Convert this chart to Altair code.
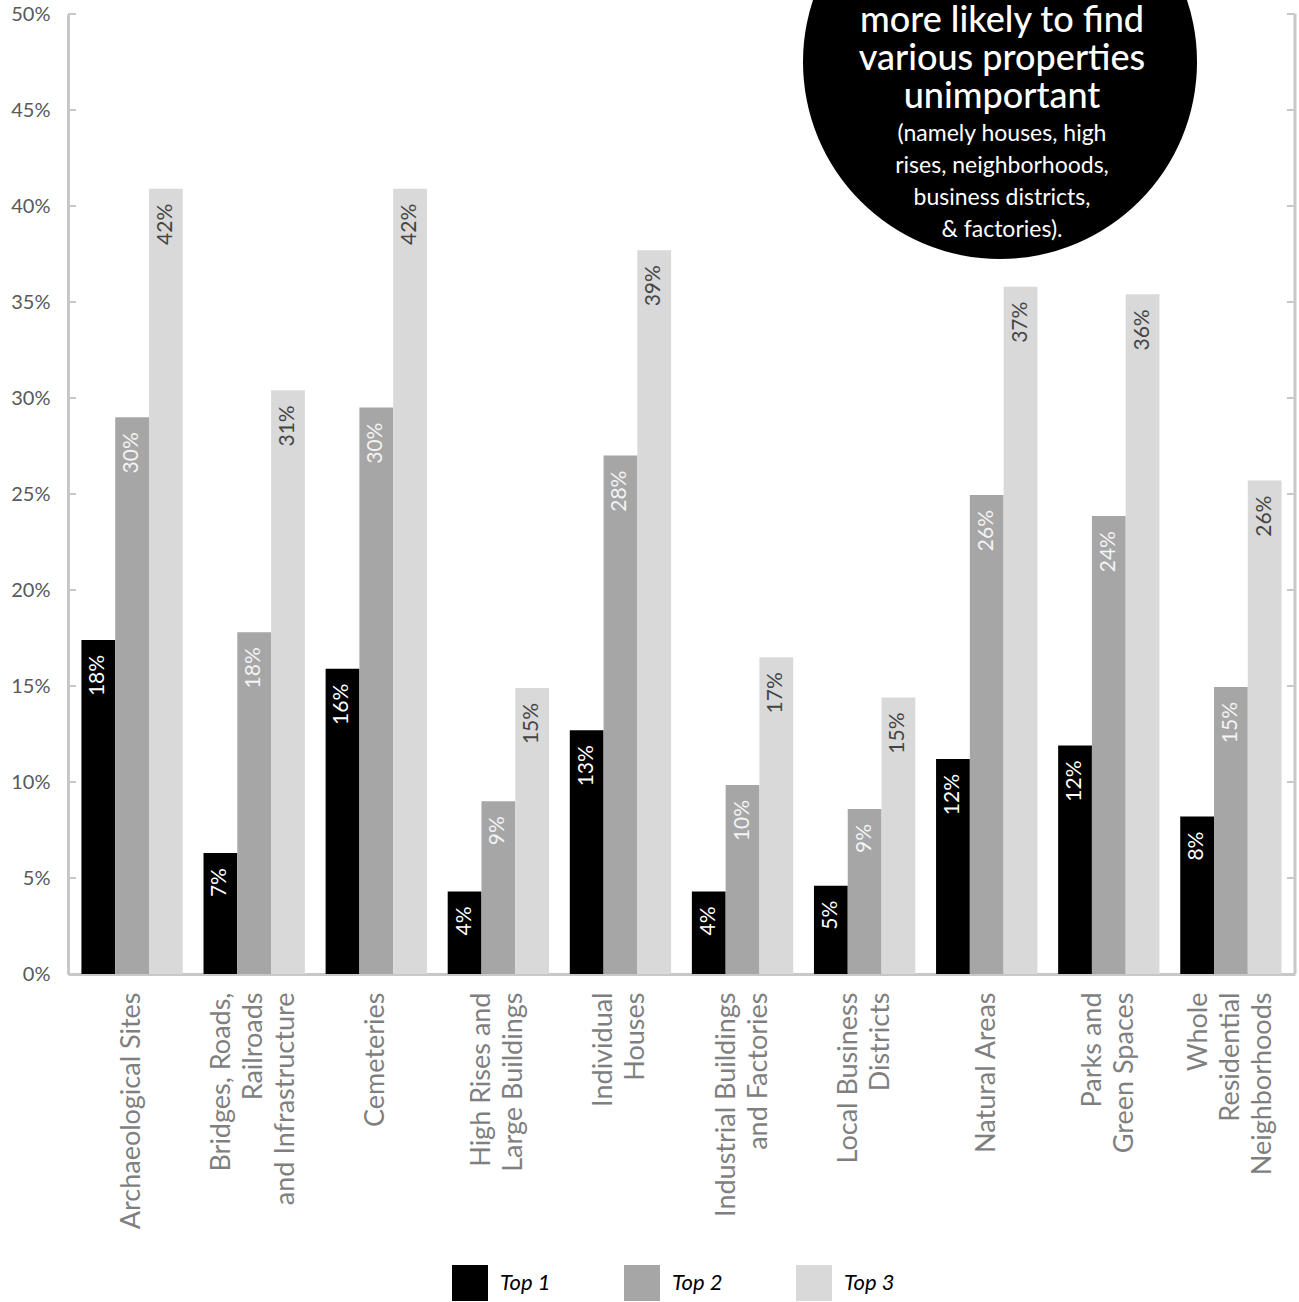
import altair as alt
import pandas as pd

# ---------------- data ----------------
categories = [
    "Archaeological Sites",
    "Bridges, Roads,|Railroads|and Infrastructure",
    "Cemeteries",
    "High Rises and|Large Buildings",
    "Individual|Houses",
    "Industrial Buildings|and Factories",
    "Local Business|Districts",
    "Natural Areas",
    "Parks and|Green Spaces",
    "Whole|Residential|Neighborhoods",
]
series = ["Top 1", "Top 2", "Top 3"]

top1 = [17.4, 6.3, 15.9, 4.3, 12.7, 4.3, 4.6, 11.2, 11.9, 8.2]
top2 = [29.0, 17.8, 29.5, 9.0, 27.0, 9.85, 8.6, 24.95, 23.85, 14.95]
top3 = [40.9, 30.4, 40.9, 14.9, 37.7, 16.5, 14.4, 35.8, 35.4, 25.7]

labels1 = ["18%", "7%", "16%", "4%", "13%", "4%", "5%", "12%", "12%", "8%"]
labels2 = ["30%", "18%", "30%", "9%", "28%", "10%", "9%", "26%", "24%", "15%"]
labels3 = ["42%", "31%", "42%", "15%", "39%", "17%", "15%", "37%", "36%", "26%"]

y_ticks = [0, 5, 10, 15, 20, 25, 30, 35, 40, 45, 50]

bar_colors = ["#000000", "#a6a6a6", "#d9d9d9"]
label_colors = ["#ffffff", "#f4f4f4", "#444444"]

note_big = ["more likely to find", "various properties", "unimportant"]
note_small = ["(namely houses, high", "rises, neighborhoods,", "business districts,", "& factories)."]

# ---------------- table ----------------
rows = []
for s, vals, labs, lc in zip(series, [top1, top2, top3], [labels1, labels2, labels3], label_colors):
    for c, v, l in zip(categories, vals, labs):
        rows.append({"category": c, "series": s, "value": v, "label": l, "lc": lc})
df = pd.DataFrame(rows)
ticks_df = pd.DataFrame({"t": y_ticks})
one = pd.DataFrame({"k": [0]})

W, H = 1227, 960
FONT = "Lato"
AXIS_GRAY = "#c8c8c8"
LINE_H = 32

x_enc = alt.X(
    "category:N",
    sort=categories,
    scale=alt.Scale(paddingInner=0.17, paddingOuter=0.11),
    axis=alt.Axis(
        title=None,
        labelAngle=-90,
        labelExpr="split(datum.label, '|')",
        labelFont=FONT,
        labelFontSize=27,
        labelColor="#7f7f7f",
        labelLineHeight=LINE_H,
        labelPadding=18,
        labelLimit=0,
        labelOffset={
            "condition": [
                {"test": "length(split(datum.value, '|')) == 3", "value": -LINE_H},
                {"test": "length(split(datum.value, '|')) == 2", "value": -LINE_H / 2},
            ],
            "value": 0,
        },
        ticks=False,
        domainColor=AXIS_GRAY,
        domainWidth=3,
    ),
)
xoff_enc = alt.XOffset("series:N", sort=series, scale=alt.Scale(paddingInner=0, paddingOuter=0))
y_scale = alt.Scale(domain=[0, 50], nice=False, zero=True)

bars = alt.Chart(df).mark_bar().encode(
    x=x_enc,
    xOffset=xoff_enc,
    y=alt.Y(
        "value:Q",
        scale=y_scale,
        axis=alt.Axis(
            title=None,
            values=y_ticks,
            labelExpr="datum.value + '%'",
            tickSize=0,
            labelPadding=18,
            labelFont=FONT,
            labelFontSize=20,
            labelColor="#595959",
            domainColor=AXIS_GRAY,
            domainWidth=3,
            grid=False,
        ),
    ),
    color=alt.Color(
        "series:N",
        scale=alt.Scale(domain=series, range=bar_colors),
        legend=alt.Legend(
            title=None,
            orient="none",
            legendX=384,
            legendY=1251,
            direction="horizontal",
            symbolType="square",
            symbolSize=1296,
            symbolStrokeWidth=0,
            symbolOpacity=1,
            labelFont=FONT,
            labelFontSize=22,
            labelFontStyle="italic",
            labelColor="#000000",
            labelOffset=12,
            columnPadding=73,
            padding=0,
        ),
    ),
)

values_text = alt.Chart(df).mark_text(
    angle=270, align="right", baseline="middle", dx=-15, font=FONT, fontSize=21
).encode(
    x=alt.X("category:N", sort=categories),
    xOffset=alt.XOffset("series:N", sort=series),
    y=alt.Y("value:Q", scale=y_scale, axis=None),
    text="label:N",
    color=alt.Color("lc:N", scale=None),
)

left_ticks = alt.Chart(ticks_df).mark_rule(color=AXIS_GRAY, strokeWidth=2).encode(
    y=alt.Y("t:Q", scale=y_scale, axis=None), x=alt.value(0), x2=alt.value(8)
)
right_ticks = alt.Chart(ticks_df).mark_rule(color=AXIS_GRAY, strokeWidth=2).encode(
    y=alt.Y("t:Q", scale=y_scale, axis=None), x=alt.value(W - 8), x2=alt.value(W)
)
right_line = alt.Chart(one).mark_rule(color=AXIS_GRAY, strokeWidth=3).encode(
    x=alt.value(W), y=alt.value(0), y2=alt.value(H)
)

R = 197
circle = alt.Chart(one).mark_point(
    shape="circle", filled=True, color="#000000", opacity=1, size=(2 * R) ** 2, strokeWidth=0
).encode(x=alt.value(932), y=alt.value(48))

note1 = alt.Chart(one).mark_text(
    text=note_big, align="center", baseline="alphabetic", font=FONT, fontSize=36,
    lineHeight=38, color="#ffffff", fontWeight=500,
).encode(x=alt.value(934), y=alt.value(18))
note2 = alt.Chart(one).mark_text(
    text=note_small, align="center", baseline="alphabetic", font=FONT, fontSize=23,
    lineHeight=32, color="#ffffff",
).encode(x=alt.value(934), y=alt.value(127))

chart = (
    alt.layer(bars, values_text, left_ticks, right_ticks, right_line, circle, note1, note2)
    .resolve_axis(y="independent")
    .properties(
        width=W,
        height=H,
        padding={"left": 68, "top": 14, "right": 4, "bottom": 328},
        autosize=alt.AutoSizeParams(type="none"),
        background="#ffffff",
    )
    .configure_view(stroke=None)
)

chart.save("out.html", embed_options={"renderer": "svg", "actions": False})
